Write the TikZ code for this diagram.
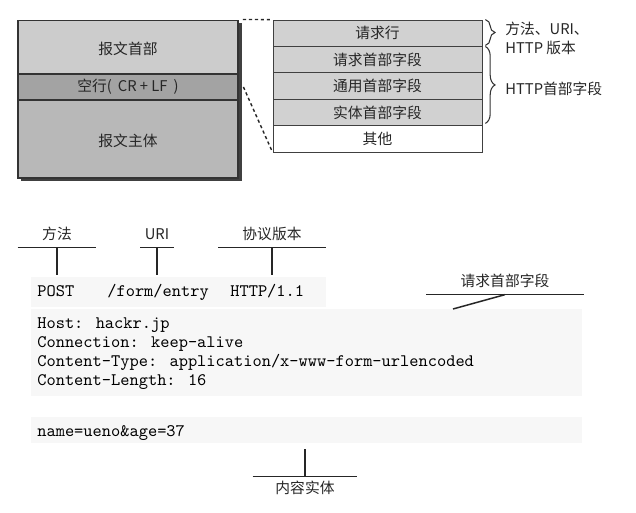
\documentclass[tikz,border=0pt]{standalone}
\usepackage{fontspec}
\newfontfamily\cjk{Noto Sans CJK SC}
\usetikzlibrary{decorations.pathreplacing}
\begin{document}
\begin{tikzpicture}[x=0.02cm, y=0.02cm]
\tikzstyle{every node}+=[inner sep=0pt]
\tikzstyle{zhtext}=[font=\cjk\fontsize{8.4}{10.8}\selectfont, text=black!85]
\tikzstyle{msgpart}=[zhtext, draw=black!80, line width=0.6pt, minimum width=125.2pt]
\tikzstyle{hdrfield}=[zhtext, draw=black!75, line width=0.5pt, fill=black!18, minimum width=118.9pt, minimum height=15pt]
\tikzstyle{codeline}=[font=\ttfamily\fontsize{10}{12}\selectfont, text=black, anchor=west, inner ysep=5pt, text height=7pt, text depth=2pt]
\tikzstyle{tagtext}=[zhtext, inner ysep=3pt, text height=6.5pt, text depth=1.5pt]
\tikzstyle{tagbar}=[black!85, line width=0.85pt]
\tikzstyle{zoomline}=[black!85, line width=0.8pt, dash pattern=on 1.8pt off 1.6pt]
\tikzstyle{curlybrace}=[black!80, line width=0.6pt, decorate, decoration={brace, amplitude=5.5pt}]
\useasboundingbox (0,0) rectangle (636,-513);
\fill [white] (0,0) rectangle (636,-513);
\fill [black!75] (21,-23) rectangle (241.5,-181.5);
\node [msgpart, fill=black!20, minimum height=30.7pt, text height=9pt, text depth=0pt] (msghdr) at (128,-47) {报文首部};
\node [msgpart, fill=black!36, minimum height=14.8pt] (blank) at (128,-87) {空行(\hspace{1.5pt} CR + LF\hspace{1.5pt} )};
\node [msgpart, fill=black!28, minimum height=44.4pt, text height=8pt, text depth=0pt] (msgbody) at (128,-139) {报文主体};
\node [hdrfield] (reqline) at (377.5,-33.2) {请求行};
\node [hdrfield] (reqhdr) at (377.5,-59.6) {请求首部字段};
\node [hdrfield] (genhdr) at (377.5,-86) {通用首部字段};
\node [hdrfield] (enthdr) at (377.5,-112.4) {实体首部字段};
\node [hdrfield, fill=white] (other) at (377.5,-138.8) {其他};
\draw [zoomline] ([xshift=2.5pt]msghdr.north east) -- (reqline.north west);
\draw [zoomline] ([xshift=2.8pt]blank.east) -- (other.south west);
\draw [curlybrace] ([xshift=1.7pt]reqline.north east) -- ([xshift=1.7pt,yshift=0.8pt]reqline.south east);
\draw [curlybrace] ([xshift=1.7pt,yshift=-0.3pt]reqhdr.north east) -- ([xshift=1.7pt,yshift=1.5pt]enthdr.south east);
\node [zhtext, anchor=west, align=left] (lineparts) at (505,-38.5) {方法、URI、\\HTTP 版本};
\node [zhtext, anchor=west] (hdrparts) at (505,-89) {HTTP首部字段};
\fill [black!3] (31,-277) rectangle (326,-307);
\fill [black!3] (31,-309) rectangle (582,-396);
\fill [black!3] (31,-417) rectangle (582,-443);
\node [codeline] (post) at (37,-292) {POST};
\node [codeline] (path) at (107,-292) {/form/entry};
\node [codeline] (proto) at (230,-292) {HTTP/1.1};
\node [codeline] (host) at (37,-324) {Host: hackr.jp};
\node [codeline] (conn) at (37,-343) {Connection: keep-alive};
\node [codeline] (ctype) at (37,-362) {Content-Type: application/x-www-form-urlencoded};
\node [codeline] (clen) at (37,-381) {Content-Length: 16};
\node [codeline] (entity) at (37,-432) {name=ueno\&age=37};
\node [tagtext, minimum width=44.4pt] (method) at (57,-235) {方法};
\node [tagtext, minimum width=18.8pt] (uri) at (157,-235) {URI};
\node [tagtext, minimum width=60.9pt] (version) at (272,-235) {协议版本};
\draw [tagbar] (method.south west) -- (method.south east);
\draw [tagbar] (method.south) -- (method.south |- post.north);
\draw [tagbar] (uri.south west) -- (uri.south east);
\draw [tagbar] (uri.south) -- (uri.south |- path.north);
\draw [tagbar] (version.south west) -- (version.south east);
\draw [tagbar] (version.south) -- (version.south |- proto.north);
\node [tagtext, minimum width=89.3pt] (hdrtag) at (505,-282) {请求首部字段};
\coordinate (hdrtip) at (453,-309);
\draw [tagbar] (hdrtag.south west) -- (hdrtag.south east);
\draw [tagbar] (hdrtag.south) -- (hdrtip);
\node [tagtext, minimum width=59.2pt] (bodytag) at (305,-489) {内容实体};
\draw [tagbar] (bodytag.north west) -- (bodytag.north east);
\draw [tagbar] (bodytag.north) -- (bodytag.north |- entity.south);
\end{tikzpicture}
\end{document}
